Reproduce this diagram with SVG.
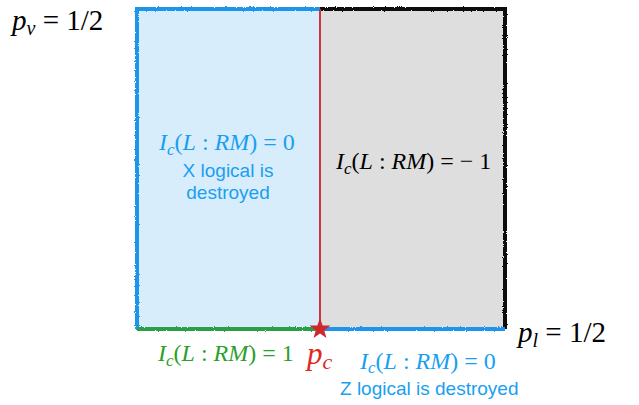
<svg xmlns="http://www.w3.org/2000/svg" width="639" height="405" viewBox="0 0 639 405">
<style>
.m{font-family:"Liberation Serif","DejaVu Serif",serif;font-size:24px}
.i{font-style:italic}
.s{font-family:"Helvetica","Liberation Sans",Arial,sans-serif;font-size:19px}
.b{fill:#1a9ff0}
.edge{fill:none;stroke-width:4;filter:url(#rough)}
</style>
<defs>
<filter id="rough" filterUnits="userSpaceOnUse" x="0" y="0" width="639" height="405">
<feTurbulence type="fractalNoise" baseFrequency="0.9" numOctaves="2" seed="3" result="n"/>
<feDisplacementMap in="SourceGraphic" in2="n" scale="2.5"/>
</filter>
</defs>
<rect width="639" height="405" fill="#fff"/>
<g id="left-region">
<rect x="137" y="9" width="183" height="320" fill="#d7edfc"/>
<path class="edge" d="M137,330 V9 H320" stroke="#1b95ea"/>
</g>
<g id="right-region">
<rect x="320" y="9" width="185" height="320" fill="#dedede"/>
<path class="edge" d="M320,9 H505 V329" stroke="#111"/>
</g>
<g id="connectors">
<line x1="320" y1="9" x2="320" y2="329" stroke="#d0333b" stroke-width="2"/>
<line class="edge" x1="137" y1="329" x2="320" y2="329" stroke="#2a9f45"/>
<line class="edge" x1="320" y1="329" x2="505" y2="329" stroke="#1b95ea"/>
</g>
<g id="star">
<polygon points="320,318 322.6,325.4 330.5,325.6 324.2,330.4 326.5,338 320,333.5 313.5,338 315.8,330.4 309.5,325.6 317.4,325.4" fill="#d0262e"/>
</g>
<g id="labels">
<text class="m" x="12" y="30" style="font-size:29px"><tspan class="i">p</tspan><tspan class="i" style="font-size:20px" dy="5">v</tspan><tspan dy="-5"> = 1/2</tspan></text>
<text class="m" x="518" y="342" style="font-size:29px"><tspan class="i">p</tspan><tspan class="i" style="font-size:20px" dy="5">l</tspan><tspan dy="-5"> = 1/2</tspan></text>
<text class="m b" x="159" y="150"><tspan class="i">I</tspan><tspan class="i" style="font-size:17px" dy="5">c</tspan><tspan dy="-5">(</tspan><tspan class="i">L</tspan> : <tspan class="i">RM</tspan>) = 0</text>
<text class="s b" x="228" y="177" text-anchor="middle">X logical is</text>
<text class="s b" x="228" y="199" text-anchor="middle">destroyed</text>
<text class="m" x="336" y="169" fill="#000"><tspan class="i">I</tspan><tspan class="i" style="font-size:17px" dy="5">c</tspan><tspan dy="-5">(</tspan><tspan class="i">L</tspan> : <tspan class="i">RM</tspan>) = − 1</text>
<text class="m" x="158" y="361" fill="#2a9f2a"><tspan class="i">I</tspan><tspan class="i" style="font-size:17px" dy="5">c</tspan><tspan dy="-5">(</tspan><tspan class="i">L</tspan> : <tspan class="i">RM</tspan>) = 1</text>
<text class="m" x="307" y="364" fill="#e0281e" style="font-size:31px"><tspan class="i">p</tspan><tspan class="i" style="font-size:22px" dy="5">c</tspan></text>
<text class="m b" x="360" y="369"><tspan class="i">I</tspan><tspan class="i" style="font-size:17px" dy="4">c</tspan><tspan dy="-4">(</tspan><tspan class="i">L</tspan> : <tspan class="i">RM</tspan>) = 0</text>
<text class="s b" x="340" y="395">Z logical is destroyed</text>
</g>
</svg>
